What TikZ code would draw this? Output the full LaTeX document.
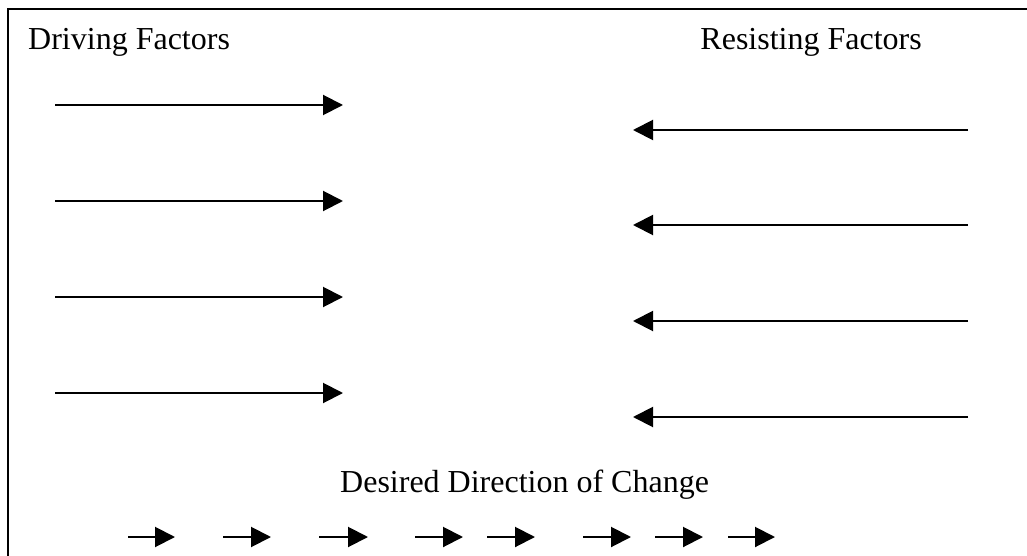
\documentclass[tikz,border=0pt]{standalone}
\usepackage{fontspec}
\setmainfont{Liberation Serif}
\usetikzlibrary{arrows.meta}

\begin{document}
\begin{tikzpicture}[x=1pt, y=-1pt]
\tikzset{force/.style={line width=2pt, -{Triangle[length=20pt, width=20pt]}}}
\tikzset{titre/.style={inner sep=0pt, font=\fontsize{32}{38}\selectfont}}
\useasboundingbox (0, 0) rectangle (1027, 556);
\draw[line width=2pt] (1027, 9) -- (8, 9) -- (8, 556);
\node[titre, anchor=base west] (D) at (28, 50) {Driving Factors};
\node[titre, anchor=base east] (R) at (922, 50) {Resisting Factors};
\node[titre, anchor=base west] (C) at (340, 492) {Desired Direction of Change};
\coordinate (D1a) at (55, 105); \coordinate (D1b) at (343, 105);
\coordinate (D2a) at (55, 201); \coordinate (D2b) at (343, 201);
\coordinate (D3a) at (55, 297); \coordinate (D3b) at (343, 297);
\coordinate (D4a) at (55, 393); \coordinate (D4b) at (343, 393);
\coordinate (R1a) at (968, 130); \coordinate (R1b) at (633, 130);
\coordinate (R2a) at (968, 225); \coordinate (R2b) at (633, 225);
\coordinate (R3a) at (968, 321); \coordinate (R3b) at (633, 321);
\coordinate (R4a) at (968, 417); \coordinate (R4b) at (633, 417);
\draw[force] (D1a) -- (D1b);
\draw[force] (D2a) -- (D2b);
\draw[force] (D3a) -- (D3b);
\draw[force] (D4a) -- (D4b);
\draw[force] (R1a) -- (R1b);
\draw[force] (R2a) -- (R2b);
\draw[force] (R3a) -- (R3b);
\draw[force] (R4a) -- (R4b);
\coordinate (S1a) at (128, 537); \coordinate (S1b) at (175, 537);
\coordinate (S2a) at (223, 537); \coordinate (S2b) at (271, 537);
\coordinate (S3a) at (319, 537); \coordinate (S3b) at (368, 537);
\coordinate (S4a) at (415, 537); \coordinate (S4b) at (463, 537);
\coordinate (S5a) at (487, 537); \coordinate (S5b) at (535, 537);
\coordinate (S6a) at (583, 537); \coordinate (S6b) at (631, 537);
\coordinate (S7a) at (655, 537); \coordinate (S7b) at (703, 537);
\coordinate (S8a) at (728, 537); \coordinate (S8b) at (775, 537);
\draw[force] (S1a) -- (S1b);
\draw[force] (S2a) -- (S2b);
\draw[force] (S3a) -- (S3b);
\draw[force] (S4a) -- (S4b);
\draw[force] (S5a) -- (S5b);
\draw[force] (S6a) -- (S6b);
\draw[force] (S7a) -- (S7b);
\draw[force] (S8a) -- (S8b);
\end{tikzpicture}
\end{document}
